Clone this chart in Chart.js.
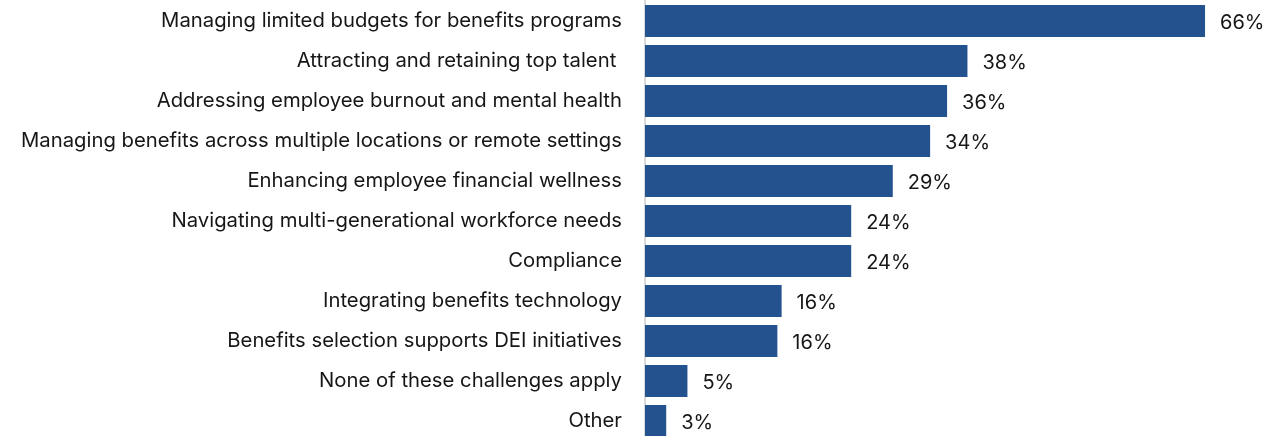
<!DOCTYPE html>
<html>
<head>
    <title>Benefits challenges</title>
    <script src="https://cdn.jsdelivr.net/npm/chart.js@4"></script>
    <style>
        html, body {
            margin: 0;
            padding: 0;
            background: #ffffff;
            overflow: hidden;
        }

        .chart {
            position: relative;
            width: 1287px;
            height: 441px;
        }
    </style>
</head>
<body>
<div class="chart">
    <canvas id="challenges-chart"></canvas>
</div>

<script>
    const categories = [
        'Managing limited budgets for benefits programs',
        'Attracting and retaining top talent ',
        'Addressing employee burnout and mental health',
        'Managing benefits across multiple locations or remote settings',
        'Enhancing employee financial wellness',
        'Navigating multi-generational workforce needs',
        'Compliance',
        'Integrating benefits technology',
        'Benefits selection supports DEI initiatives',
        'None of these challenges apply',
        'Other'
    ];
    const shares = [66, 38, 35.6, 33.6, 29.2, 24.3, 24.3, 16.1, 15.6, 5, 2.5];

    const fontFamily = 'Inter, "Open Sans", sans-serif';
    const textColor = '#161616';

    // value labels to the right of every bar
    const valueLabels = {
        id: 'valueLabels',
        afterDatasetsDraw(chart) {
            const ctx = chart.ctx;
            const meta = chart.getDatasetMeta(0);
            ctx.save();
            ctx.font = '20px ' + fontFamily;
            ctx.fillStyle = textColor;
            ctx.textAlign = 'left';
            ctx.textBaseline = 'middle';
            meta.data.forEach((bar, i) => {
                ctx.fillText(Math.round(shares[i]) + '%', bar.x + 15, bar.y + 2);
            });
            ctx.restore();
        }
    };

    const ctx = document.getElementById('challenges-chart').getContext('2d');
    const chart = new Chart(ctx, {
        type: 'bar',
        data: {
            labels: categories,
            datasets: [{
                data: shares,
                backgroundColor: '#24528f',
                borderWidth: 0,
                categoryPercentage: 0.8,
                barPercentage: 1
            }]
        },
        options: {
            indexAxis: 'y',
            responsive: true,
            maintainAspectRatio: false,
            animation: false,
            layout: {
                padding: {top: 1, right: 0, bottom: 0, left: 0}
            },
            plugins: {
                legend: {display: false},
                tooltip: {enabled: false}
            },
            scales: {
                x: {
                    display: false,
                    min: 0,
                    max: 75.66
                },
                y: {
                    afterFit: function (scale) {
                        scale.width = 645;
                        // no extra room above / below for the tick labels
                        scale.paddingTop = 0;
                        scale.paddingBottom = 0;
                    },
                    grid: {
                        display: false,
                        drawTicks: false
                    },
                    border: {
                        display: true,
                        color: '#d9d9d9',
                        width: 2
                    },
                    ticks: {
                        color: textColor,
                        padding: 23,
                        font: {
                            family: fontFamily,
                            size: 20.3
                        }
                    }
                }
            }
        },
        plugins: [valueLabels]
    });
</script>
</body>
</html>
